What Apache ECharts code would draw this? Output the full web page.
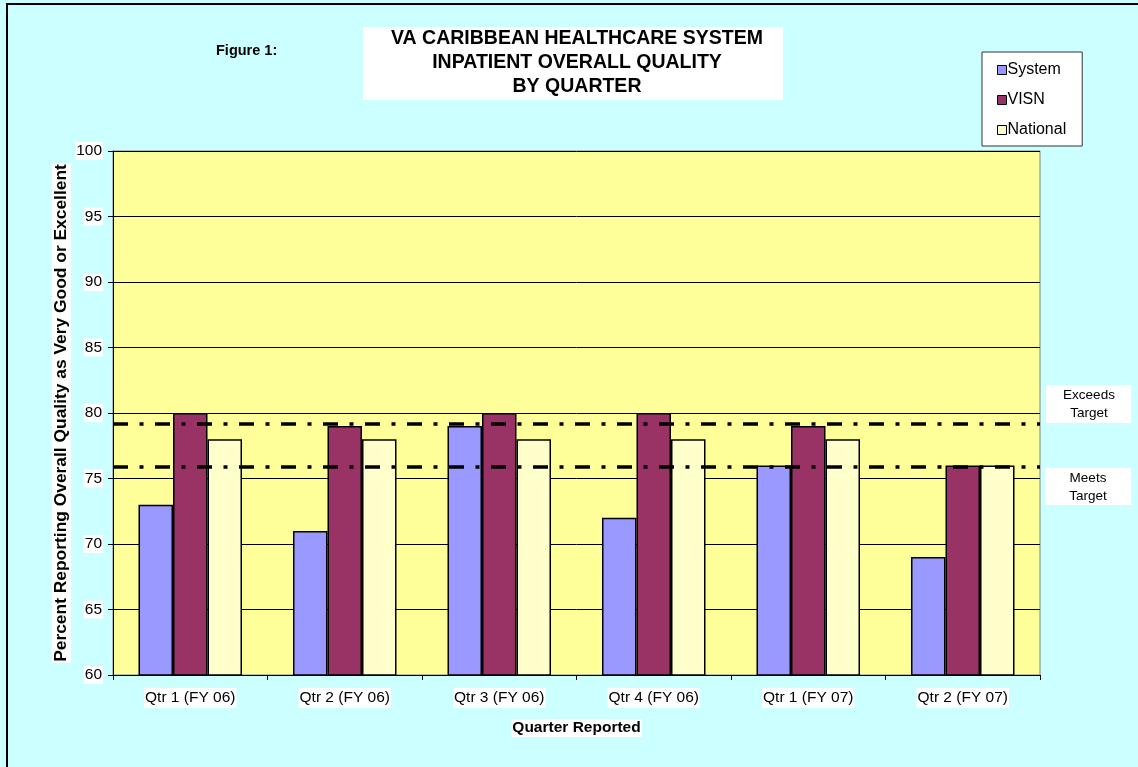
<!DOCTYPE html>
<html><head><meta charset="utf-8">
<script src="https://cdn.jsdelivr.net/npm/echarts@6/dist/echarts.min.js"></script>
<style>html,body{margin:0;padding:0;background:#CCFFFF;}#c{width:1138px;height:767px;}</style>
</head><body><div id="c"></div>
<script>
const categories = ['Qtr 1 (FY 06)','Qtr 2 (FY 06)','Qtr 3 (FY 06)','Qtr 4 (FY 06)','Qtr 1 (FY 07)','Qtr 2 (FY 07)'];
const systemVals = [73, 71, 79, 72, 76, 69];
const visnVals = [80, 79, 80, 80, 79, 76];
const nationalVals = [78, 78, 78, 78, 78, 76];
const exceedsTarget = 79.2;
const meetsTarget = 75.9;

const F = 'Liberation Sans, Arial, sans-serif';
const chart = echarts.init(document.getElementById('c'), null, {renderer:'canvas'});
const dash = {type:[15,11.5,4,11.5], width:3.5, color:'#000'};
function bar(name, data, color, extra){
  return Object.assign({name, type:'bar', data, barGap:'0%', barCategoryGap:'33%',
    itemStyle:{color, borderColor:'#000', borderWidth:1.5}}, extra||{});
}
chart.setOption({
  backgroundColor:'#CCFFFF',
  animation:false,
  textStyle:{fontFamily:F},
  grid:{left:113, right:98, top:151, bottom:92, show:true, backgroundColor:'#FFFF99', borderColor:'#808080', borderWidth:1},
  legend:{
    orient:'vertical', left:982, top:52, itemWidth:9, itemHeight:9, itemGap:14, icon:'rect',
    backgroundColor:'#fff', borderColor:'#333', borderWidth:1, padding:[10,16,8,15],
    textStyle:{fontFamily:F, fontSize:16, color:'#000', padding:[0,0,0,-4]},
    itemStyle:{borderColor:'#000', borderWidth:1},
    data:['System','VISN','National']
  },
  xAxis:{
    type:'category', data:categories,
    name:'Quarter Reported', nameLocation:'middle', nameGap:44, nameMoveOverlap:false,
    nameTextStyle:{fontFamily:F, fontSize:15.5, fontWeight:'bold', color:'#000', backgroundColor:'#fff', padding:[1,1]},
    axisLine:{lineStyle:{color:'#000', width:1}},
    axisTick:{show:true, alignWithLabel:false, length:5, lineStyle:{color:'#000'}},
    axisLabel:{fontFamily:F, fontSize:15.5, color:'#000', margin:13, backgroundColor:'#fff', padding:[2,1]}
  },
  yAxis:{
    type:'value', min:60, max:100, interval:5,
    name:'Percent Reporting Overall Quality as Very Good or Excellent', nameLocation:'middle', nameGap:42, nameRotate:90, nameMoveOverlap:false,
    nameTextStyle:{fontFamily:F, fontSize:17.4, fontWeight:'bold', color:'#000', backgroundColor:'#fff', padding:[1,1]},
    axisLine:{show:true, lineStyle:{color:'#000', width:1}},
    axisTick:{show:true, length:5, lineStyle:{color:'#000'}},
    axisLabel:{fontFamily:F, fontSize:15.5, color:'#000', margin:10, backgroundColor:'#fff', padding:[1,1]},
    splitLine:{show:true, lineStyle:{color:'#000', width:1}}
  },
  series:[
    bar('System', systemVals, '#9999FF', {
      markLine:{silent:true, symbol:['none','none'], label:{show:false}, lineStyle:dash,
        data:[{yAxis:exceedsTarget},{yAxis:meetsTarget}]}, z:2}),
    bar('VISN', visnVals, '#993366'),
    bar('National', nationalVals, '#FFFFCC')
  ],
  graphic:[
    {type:'rect', shape:{x:7, y:4, width:1140, height:780}, style:{fill:'none', stroke:'#000', lineWidth:2}, silent:true, z:-1},
    {type:'rect', shape:{x:363, y:27, width:420, height:73}, style:{fill:'#fff'}, z:1},
    {type:'text', x:577, y:27, style:{text:'VA CARIBBEAN HEALTHCARE SYSTEM\nINPATIENT OVERALL QUALITY\nBY QUARTER',
      font:'bold 19.5px '+F, fill:'#000', textAlign:'center', lineHeight:24}, z:2},
    {type:'text', x:216, y:43, style:{text:'Figure 1:', font:'bold 14.5px '+F, fill:'#000'}, z:2},
    {type:'rect', shape:{x:1046, y:385, width:85, height:38}, style:{fill:'#fff'}, z:1},
    {type:'text', x:1089, y:386, style:{text:'Exceeds\nTarget', font:'13.5px '+F, fill:'#000', textAlign:'center', lineHeight:18}, z:2},
    {type:'rect', shape:{x:1045, y:468, width:86, height:37}, style:{fill:'#fff'}, z:1},
    {type:'text', x:1088, y:469, style:{text:'Meets\nTarget', font:'13.5px '+F, fill:'#000', textAlign:'center', lineHeight:18}, z:2}
  ]
});
</script></body></html>
